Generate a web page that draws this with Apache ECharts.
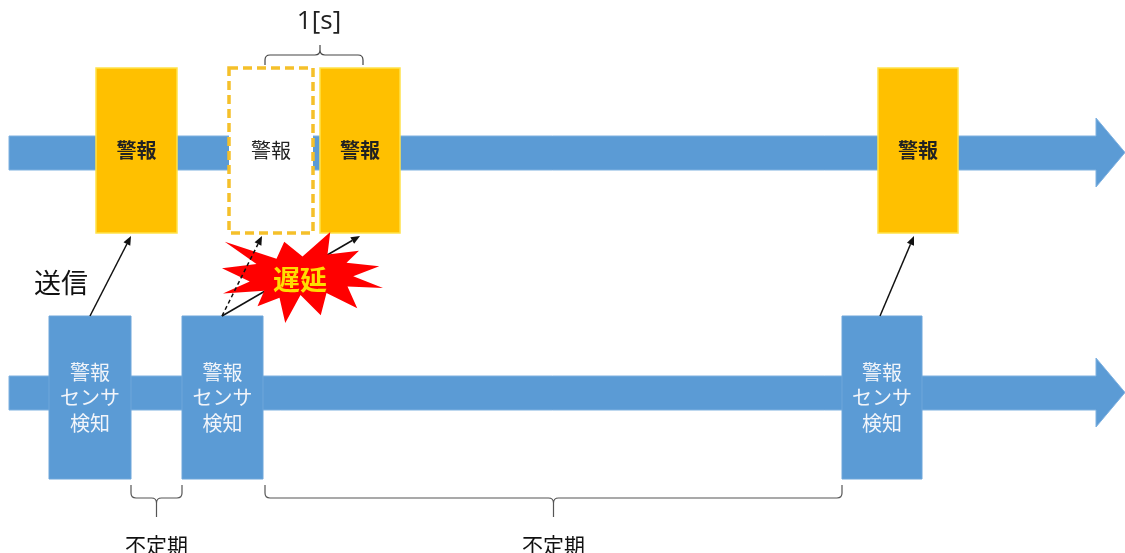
<!DOCTYPE html>
<html>
<head>
<meta charset="utf-8">
<title>警報送信の遅延</title>
<script src="https://cdn.jsdelivr.net/npm/echarts@6.0.0/dist/echarts.min.js"></script>
<style>
html,body{margin:0;padding:0;background:#fff;}
#chart{width:1125px;height:553px;}
</style>
</head>
<body>
<div id="chart"></div>
<script>
// time positions on the x axis
var timelineRange = [9, 1125];
var alarmSlots = [[96, 177], [320, 400], [878, 958]];
var delayedSlots = [[229, 313]];
var sensorHits = [[49, 131], [182, 263], [842, 922]];
// [x on sensor lane, x on alarm lane, dashed]
var sendLinks = [[90, 131, 0], [222, 262, 1], [222, 360, 0], [880, 914, 0]];
var irregularGaps = [[131, 182], [265, 842]];
var delaySpans = [[265, 363, 320]];

var alarmText = '警報';
var sensorText = '警報\nセンサ\n検知';
var gapText = '不定期';
var delayText = '1[s]';
var sendText = '送信';
var lateText = '遅延';

// lane layout (y axis units, top down)
var ALARM = {top: 68, bottom: 233, band: [136, 170], head: [118, 187]};
var SENSOR = {top: 316, bottom: 479, band: [376, 410], head: [358, 427]};
var HEAD_X = 1096;
var BLUE = '#5B9BD5', GOLD = '#FFC000';
var JP = '"Noto Sans CJK JP", "Noto Sans CJK SC", sans-serif';

// explosion shape, 21600 units
var starPts = [[10800,5800],[14522,0],[14155,5325],[18380,4457],[16702,7315],[21097,8137],[17607,10475],
  [21600,13290],[16837,12942],[18145,18095],[14020,14457],[13247,19737],[10532,14935],[8485,21600],
  [7715,15627],[4762,17617],[5667,13937],[135,14587],[3722,11775],[0,8615],[4627,7617],[370,2295],
  [7312,6320],[8352,2295]];
var starBox = [222, 383, 232, 323];

var chart = echarts.init(document.getElementById('chart'));

function box(api, x0, x1, y0, y1) {
    var p0 = api.coord([x0, y0]), p1 = api.coord([x1, y1]);
    return {x: p0[0], y: p0[1], width: p1[0] - p0[0], height: p1[1] - p0[1]};
}

function bandItem(params, api) {
    var lane = api.value(2) === 0 ? ALARM : SENSOR;
    var x0 = api.value(0), x1 = api.value(1);
    var yc = (lane.head[0] + lane.head[1]) / 2;
    var pts = [[x0, lane.band[0]], [HEAD_X, lane.band[0]], [HEAD_X, lane.head[0]], [x1, yc],
        [HEAD_X, lane.head[1]], [HEAD_X, lane.band[1]], [x0, lane.band[1]]].map(function (p) { return api.coord(p); });
    return {type: 'polygon', shape: {points: pts}, style: {fill: BLUE, stroke: '#7FB1E0', lineWidth: 1}};
}

function alarmItem(params, api) {
    var r = box(api, api.value(0), api.value(1), ALARM.top, ALARM.bottom);
    return {type: 'group', children: [
        {type: 'rect', shape: r, style: {fill: GOLD, stroke: '#FFE24A', lineWidth: 1.5}},
        {type: 'text', style: {text: alarmText, x: r.x + r.width / 2, y: r.y + r.height / 2,
            align: 'center', verticalAlign: 'middle', fontFamily: JP, fontSize: 20, fontWeight: 'bold', fill: '#222'}}
    ]};
}

function ghostItem(params, api) {
    var r = box(api, api.value(0), api.value(1), ALARM.top, ALARM.bottom);
    return {type: 'group', children: [
        {type: 'rect', shape: r, style: {fill: '#fff', stroke: '#F5C02A', lineWidth: 3.5, lineDash: [9, 5]}},
        {type: 'text', style: {text: alarmText, x: r.x + r.width / 2, y: r.y + r.height / 2,
            align: 'center', verticalAlign: 'middle', fontFamily: JP, fontSize: 20, fill: '#222'}}
    ]};
}

function sensorItem(params, api) {
    var r = box(api, api.value(0), api.value(1), SENSOR.top, SENSOR.bottom);
    return {type: 'group', children: [
        {type: 'rect', shape: r, style: {fill: BLUE, stroke: '#6FA6DA', lineWidth: 1}},
        {type: 'text', style: {text: sensorText, x: r.x + r.width / 2, y: r.y + r.height / 2,
            align: 'center', verticalAlign: 'middle', fontFamily: JP, fontSize: 20, lineHeight: 25.5, fill: '#F2F5FA'}}
    ]};
}

function linkItem(params, api) {
    var a = api.coord([api.value(0), SENSOR.top]);
    var b = api.coord([api.value(1), ALARM.bottom + 3]);
    var dx = b[0] - a[0], dy = b[1] - a[1], len = Math.sqrt(dx * dx + dy * dy);
    var ux = dx / len, uy = dy / len, hl = 9, hw = 3.8;
    var base = [b[0] - ux * hl, b[1] - uy * hl];
    var dashed = api.value(2) === 1;
    return {type: 'group', children: [
        {type: 'line', shape: {x1: a[0], y1: a[1], x2: base[0], y2: base[1]},
            style: {stroke: '#111', lineWidth: 1.5, lineDash: dashed ? [4, 3] : null}},
        {type: 'polygon', shape: {points: [b, [base[0] - uy * hw, base[1] + ux * hw], [base[0] + uy * hw, base[1] - ux * hw]]},
            style: {fill: '#111'}}
    ]};
}

function braceItem(params, api, yBase, yBar, yTip) {
    var x0 = api.coord([api.value(0), yBase]), x1 = api.coord([api.value(1), yBar]);
    var tipV = api.value(2);
    var xm = api.coord([isNaN(tipV) ? (api.value(0) + api.value(1)) / 2 : tipV, yTip]);
    var X0 = x0[0], YB = x0[1], X1 = x1[0], YM = x1[1], XM = xm[0], YT = xm[1];
    var d = YM > YB ? 1 : -1, r = 5;
    var p = 'M' + X0 + ' ' + YB + 'L' + X0 + ' ' + (YM - d * r) + 'Q' + X0 + ' ' + YM + ' ' + (X0 + r) + ' ' + YM +
        'L' + (XM - r) + ' ' + YM + 'Q' + XM + ' ' + YM + ' ' + XM + ' ' + (YM + d * r) + 'L' + XM + ' ' + YT +
        'M' + XM + ' ' + (YM + d * r) + 'Q' + XM + ' ' + YM + ' ' + (XM + r) + ' ' + YM +
        'L' + (X1 - r) + ' ' + YM + 'Q' + X1 + ' ' + YM + ' ' + X1 + ' ' + (YM - d * r) + 'L' + X1 + ' ' + YB;
    return {p: p, xm: XM, yt: YT};
}

function gapItem(params, api) {
    var b = braceItem(params, api, 485, 498, 517);
    return {type: 'group', children: [
        {type: 'path', shape: {pathData: b.p}, style: {fill: null, stroke: '#555', lineWidth: 1.2}},
        {type: 'text', style: {text: gapText, x: b.xm, y: 545, align: 'center', verticalAlign: 'middle',
            fontFamily: JP, fontSize: 21, fill: '#111'}}
    ]};
}

function spanItem(params, api) {
    var b = braceItem(params, api, 65, 55, 45);
    return {type: 'group', children: [
        {type: 'path', shape: {pathData: b.p}, style: {fill: null, stroke: '#444', lineWidth: 1.2}},
        {type: 'text', style: {text: delayText, x: b.xm - 1, y: 22, align: 'center', verticalAlign: 'middle',
            fontFamily: '"Open Sans", sans-serif', fontSize: 26, fill: '#222'}}
    ]};
}

function starItem(params, api) {
    var pts = starPts.map(function (p) {
        return api.coord([starBox[0] + (starBox[1] - starBox[0]) * p[0] / 21600,
            starBox[2] + (starBox[3] - starBox[2]) * p[1] / 21600]);
    });
    var c = api.coord([300, 280]);
    return {type: 'group', children: [
        {type: 'polygon', shape: {points: pts}, style: {fill: '#FF0000'}},
        {type: 'text', style: {text: lateText, x: c[0], y: c[1], align: 'center', verticalAlign: 'middle',
            fontFamily: JP, fontSize: 27, fontWeight: 'bold', fill: '#FFDD00'}}
    ]};
}

function sendLabelItem(params, api) {
    var p = api.coord([api.value(0), 283]);
    return {type: 'text', style: {text: sendText, x: p[0] - 29, y: p[1], align: 'center', verticalAlign: 'middle',
        fontFamily: JP, fontSize: 27, fill: '#111'}};
}

var option = {
    animation: false,
    grid: {left: 0, right: 0, top: 0, bottom: 0},
    xAxis: {type: 'value', min: 0, max: 1125, show: false},
    yAxis: {type: 'value', min: 0, max: 553, inverse: true, show: false},
    series: [
        {type: 'custom', z: 1, clip: false, renderItem: bandItem,
            data: [[timelineRange[0], timelineRange[1], 0], [timelineRange[0], timelineRange[1], 1]]},
        {type: 'custom', z: 2, clip: false, renderItem: sensorItem, data: sensorHits},
        {type: 'custom', z: 2, clip: false, renderItem: alarmItem, data: alarmSlots},
        {type: 'custom', z: 2, clip: false, renderItem: ghostItem, data: delayedSlots},
        {type: 'custom', z: 2, clip: false, renderItem: gapItem, data: irregularGaps},
        {type: 'custom', z: 2, clip: false, renderItem: spanItem, data: delaySpans},
        {type: 'custom', z: 3, clip: false, renderItem: linkItem,
            data: sendLinks.filter(function (l) { return l[2] === 0; })},
        {type: 'custom', z: 4, clip: false, renderItem: starItem, data: [[starBox[0], starBox[1]]]},
        {type: 'custom', z: 5, clip: false, renderItem: linkItem,
            data: sendLinks.filter(function (l) { return l[2] === 1; })},
        {type: 'custom', z: 5, clip: false, renderItem: sendLabelItem, data: [[sendLinks[0][0]]]}
    ]
};
chart.setOption(option);
</script>
</body>
</html>
